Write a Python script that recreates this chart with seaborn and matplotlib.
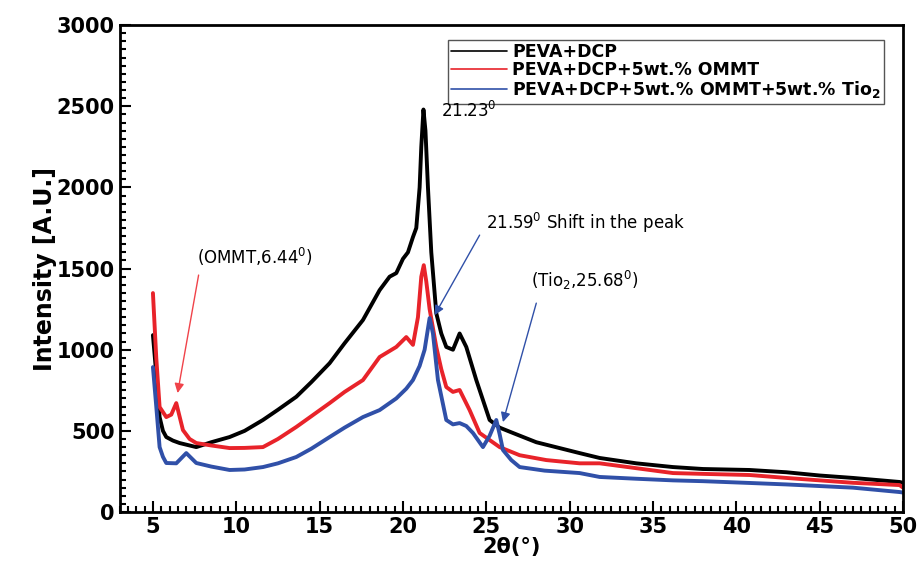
import pandas as pd
import seaborn as sns
import matplotlib.pyplot as plt
from matplotlib.ticker import MultipleLocator

# values (2theta in degrees, intensity in A.U.)
x_peva = [5.0, 5.2, 5.4, 5.6, 5.8, 6.2, 6.6, 7.0, 7.6, 8.5, 9.6, 10.5, 11.6, 12.5, 13.6, 14.5,
          15.6, 16.5, 17.6, 18.6, 19.2, 19.6, 20.0, 20.3, 20.6, 20.8, 21.0, 21.1, 21.23, 21.35,
          21.5, 21.7, 22.0, 22.3, 22.6, 23.0, 23.4, 23.8, 24.4, 25.2, 25.8, 26.6, 28.0, 30.6,
          31.8, 34.0, 36.2, 38.0, 40.8, 43.0, 45.0, 47.0, 49.8, 50.0]
y_peva = [1090, 850, 585, 500, 462, 440, 425, 415, 400, 430, 462, 500, 567, 630, 710, 800,
          917, 1040, 1183, 1367, 1450, 1472, 1560, 1600, 1694, 1750, 2000, 2250, 2480, 2350,
          2000, 1600, 1225, 1100, 1017, 1000, 1100, 1017, 813, 567, 520, 487, 430, 363,
          333, 300, 277, 265, 259, 245, 225, 210, 185, 180]

x_ommt = [5.0, 5.2, 5.4, 5.8, 6.1, 6.4, 6.8, 7.2, 7.6, 8.5, 9.6, 10.5, 11.6, 12.5, 13.6, 14.5,
          15.6, 16.5, 17.6, 18.6, 19.6, 20.2, 20.6, 20.9, 21.1, 21.25, 21.4, 21.6, 22.0, 22.3,
          22.6, 23.0, 23.4, 24.0, 24.6, 25.8, 27.0, 28.6, 30.6, 31.8, 34.0, 36.2, 38.0, 40.8,
          43.0, 45.0, 47.0, 49.8, 50.0]
y_ommt = [1349, 950, 647, 585, 600, 671, 505, 450, 425, 410, 394, 395, 400, 450, 524, 590,
          671, 740, 813, 955, 1017, 1078, 1030, 1200, 1450, 1521, 1420, 1250, 1017, 880,
          770, 740, 752, 628, 487, 400, 350, 320, 300, 300, 270, 240, 235, 228,
          210, 195, 180, 166, 150]

x_tio2 = [5.0, 5.2, 5.4, 5.6, 5.8, 6.4, 7.0, 7.6, 8.5, 9.6, 10.5, 11.6, 12.5, 13.6, 14.5, 15.6,
          16.5, 17.6, 18.6, 19.6, 20.2, 20.6, 21.0, 21.3, 21.6, 21.8, 22.1, 22.6, 23.0, 23.4,
          23.8, 24.2, 24.8, 25.2, 25.6, 25.8, 26.0, 26.5, 27.0, 28.5, 30.6, 31.8, 34.0, 36.2,
          38.0, 40.8, 43.0, 45.0, 47.0, 49.8, 50.0]
y_tio2 = [893, 650, 400, 340, 302, 300, 363, 302, 280, 259, 262, 277, 300, 339, 390, 462,
          520, 585, 628, 700, 760, 813, 900, 1000, 1195, 1100, 813, 567, 540, 548,
          530, 487, 400, 470, 567, 480, 382, 320, 277, 255, 240, 216, 205, 195,
          190, 179, 170, 160, 150, 123, 120]

labels = ["PEVA+DCP", "PEVA+DCP+5wt.% OMMT", r"PEVA+DCP+5wt.% OMMT+5wt.% Tio$_\mathbf{2}$"]
colors = ["#000000", "#e8232a", "#3050a8"]

sns.set_style("ticks")
plt.rcParams["font.family"] = ["DejaVu Sans"]
plt.rcParams["text.color"] = "black"

fig = plt.figure(figsize=(9.2, 5.71), dpi=100)
ax = fig.add_axes([0.130, 0.1033, 0.8515, 0.8527])

for xs, ys, lab, col in zip([x_peva, x_ommt, x_tio2], [y_peva, y_ommt, y_tio2], labels, colors):
    d = pd.DataFrame({"x": xs, "y": ys})
    sns.lineplot(data=d, x="x", y="y", ax=ax, color=col, lw=2.8, label=lab,
                 estimator=None, sort=False)

ax.set_xlim(3, 50)
ax.set_ylim(0, 3000)
ax.xaxis.set_major_locator(MultipleLocator(5))
ax.xaxis.set_minor_locator(MultipleLocator(0.5))
ax.yaxis.set_major_locator(MultipleLocator(500))
ax.yaxis.set_minor_locator(MultipleLocator(50))
ax.tick_params(which="both", direction="in", width=1.5, labelsize=15,
               color="black", labelcolor="black")
ax.tick_params(which="major", length=8)
ax.tick_params(which="minor", length=4)
for lbl in ax.get_xticklabels() + ax.get_yticklabels():
    lbl.set_fontweight("bold")
for s in ax.spines.values():
    s.set_linewidth(2)
    s.set_color("black")

ax.set_xlabel("2θ(°)", fontsize=15, fontweight="bold", labelpad=0, color="black")
ax.set_ylabel("Intensity [A.U.]", fontsize=17, fontweight="bold",
              family=["Liberation Sans Narrow", "DejaVu Sans"], labelpad=0, color="black")

leg = ax.legend(loc="upper right", bbox_to_anchor=(0.987, 0.988), frameon=True,
                fancybox=False, edgecolor="#555555", handlelength=3.2, handletextpad=0.3,
                labelspacing=0.0, borderpad=0.2, prop={"weight": "bold", "size": 12.5})
leg.get_frame().set_linewidth(1)
leg.get_frame().set_alpha(1)
for h in leg.get_lines():
    h.set_linewidth(1.2)

ax.text(22.3, 2470, "21.23$^0$", fontsize=12, va="center", zorder=6)

red_arrow = dict(arrowstyle="-|>", color="#f0434a", lw=1, shrinkA=0, shrinkB=0, mutation_scale=14)
blue_arrow = dict(arrowstyle="-|>", color="#3050a8", lw=1, shrinkA=0, shrinkB=0, mutation_scale=14)

ax.text(7.62, 1571, "(OMMT,6.44$^0$)", fontsize=12, va="center")
ax.annotate("", xy=(6.48, 733), xytext=(7.74, 1460), arrowprops=red_arrow)
ax.text(25.0, 1780, "21.59$^0$ Shift in the peak", fontsize=12, va="center")
ax.annotate("", xy=(21.9, 1213), xytext=(24.6, 1706), arrowprops=blue_arrow)
ax.text(27.7, 1429, "(Tio$_2$,25.68$^0$)", fontsize=12, va="center")
ax.annotate("", xy=(26.0, 554), xytext=(28.0, 1287), arrowprops=blue_arrow)

fig.savefig("out.png", dpi=100)
